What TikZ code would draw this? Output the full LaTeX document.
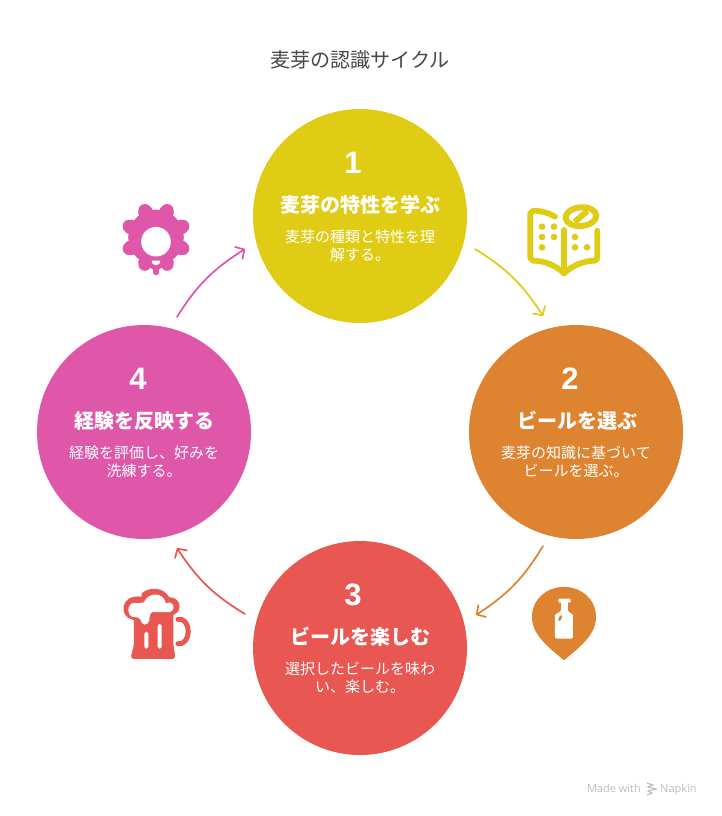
\documentclass[tikz,border=0pt]{standalone}
\usepackage{fontspec}
\setmainfont{Noto Sans CJK JP}
\newfontfamily\latinf{Open Sans}
\newfontfamily\numf{Liberation Sans}
\usetikzlibrary{arrows.meta,calc,bending}
\definecolor{cy}{HTML}{E0CC14}
\definecolor{co}{HTML}{DE8430}
\definecolor{cr}{HTML}{E85752}
\definecolor{cp}{HTML}{DE57A8}
\definecolor{ct}{HTML}{484848}
\definecolor{cg}{HTML}{BDBDBD}
\newcommand{\fs}[2]{\fontsize{#1}{#2}\selectfont}
\tikzset{
  x=1pt,y=-1pt,
  disc/.style={circle,minimum size=214pt,inner sep=0pt,fill=#1},
  numtxt/.style={text=white,font=\numf\fs{31}{31}\bfseries,inner sep=0pt},
  headtxt/.style={text=white,font=\fs{20}{20}\bfseries,inner sep=0pt},
  desctxt/.style={text=white,font=\fs{15}{18},align=center,inner sep=0pt},
  cyc/.style={draw=#1,line width=1.7pt,line cap=round,-{Straight Barb[length=6.5pt,width=14pt,line width=1.7pt,round]}}
}
\begin{document}
\begin{tikzpicture}
\useasboundingbox (0,0) rectangle (721,816);
\fill[white] (0,0) rectangle (721,816);
\node[font=\fs{20.1}{20},text=ct,inner sep=0pt] (title) at (360,60) {麦芽の認識サイクル};
% discs
\node[disc=cy] (c1) at (360,216) {};
\node[disc=co] (c2) at (576,432) {};
\node[disc=cr] (c3) at (360,648) {};
\node[disc=cp] (c4) at (144,432) {};
% texts
\node[numtxt] (n1) at (353,163) {1};
\node[headtxt] (h1) at (360,205) {麦芽の特性を学ぶ};
\node[desctxt] (d1) at (360,246) {麦芽の種類と特性を理\\解する。};
\node[numtxt] (n2) at (570,379) {2};
\node[headtxt] (h2) at (577,421) {ビールを選ぶ};
\node[desctxt] (d2) at (576,462) {麦芽の知識に基づいて\\ビールを選ぶ。};
\node[numtxt] (n3) at (353,595) {3};
\node[headtxt] (h3) at (360,637) {ビールを楽しむ};
\node[desctxt] (d3) at (360,678) {選択したビールを味わ\\い、楽しむ。};
\node[numtxt] (n4) at (138,379) {4};
\node[headtxt] (h4) at (144,421) {経験を反映する};
\node[desctxt] (d4) at (144,462) {経験を評価し、好みを\\洗練する。};
% connectors
\path (c1) ++(115,33) coordinate (a1s) (c2) ++(-33,-116) coordinate (a1e);
\path (c2) ++(-33,114) coordinate (a2s) (c3) ++(116,-33) coordinate (a2e);
\path (c3) ++(-115,-34) coordinate (a3s) (c4) ++(33,116) coordinate (a3e);
\path (c4) ++(33,-115) coordinate (a4s) (c1) ++(-115,33) coordinate (a4e);
\draw[cyc=cy] (a1s) to[bend left=13] (a1e);
\draw[cyc=co] (a2s) to[bend left=13] (a2e);
\draw[cyc=cr] (a3s) to[bend left=13] (a3e);
\draw[cyc=cp] (a4s) to[bend left=13] (a4e);
% gear icon
\begin{scope}[shift={(156,237.4)}]
  \fill[cp] (0,0) circle (27.8);
  \foreach \a in {22.5,67.5,...,360} {
    \fill[cp] (\a:29) circle (6.6);
    \fill[cp] (\a+9:28.4) circle (3);
    \fill[cp] (\a-9:28.4) circle (3);
  }
  \fill[cp] (0,26.5) circle (6.5);
  \fill[white] (0,4.3) circle (14.8);
  \draw[cp,line width=5.2pt,line cap=round] (0,27) -- (0,35.2);
  \fill[white] (-4.3,23.2) -- (4.3,23.2) .. controls (4.3,26.5) and (2,27.8) .. (0,27.8) .. controls (-2,27.8) and (-4.3,26.5) .. (-4.3,23.2) -- cycle;
\end{scope}
% book icon
\begin{scope}[shift={(470,190)},x=0.3333pt,y=-0.3333pt]
  \draw[cy,line width=5.8pt,line cap=round,line join=round]
    (255,80) .. controls (235,68) and (210,62) .. (190,62) -- (181,70) -- (181,205) -- (190,212)
    .. controls (225,212) and (260,228) .. (282,250) .. controls (305,228) and (340,212) .. (375,212) -- (382,205) -- (382,122);
  \draw[cy,line width=5.8pt,line cap=round] (282,120) -- (282,250);
  \foreach \p in {(216,110),(252,110),(216,141),(252,141),(216,172),(315,141),(315,172),(351,172)}
    \fill[cy] \p circle (10);
  \draw[cy,line width=6pt,rotate around={5:(333,80)}] (333,80) ellipse [x radius=46,y radius=28];
  \draw[cy,line width=6pt] (314,96) -- (352,63);
\end{scope}
% bottle pin icon
\begin{scope}[shift={(470,540)},x=0.3333pt,y=-0.3333pt]
  \fill[co,draw=co,line width=1.5pt,line join=round] (282,358)
    .. controls (235,318) and (190,285) .. (188,232)
    .. controls (188,180) and (230,143) .. (282,143)
    .. controls (334,143) and (376,180) .. (376,232)
    .. controls (374,285) and (329,318) .. (282,358) -- cycle;
  \fill[white,rounded corners=1.2pt] (265,176) rectangle (302,188);
  \fill[white] (272,184) rectangle (294,212);
  \fill[white,rounded corners=2pt] (255,296) -- (255,232) .. controls (255,220) and (272,218) .. (272,205)
    -- (294,205) .. controls (294,218) and (309,220) .. (309,232) -- (309,296) -- cycle;
  \draw[co,line width=2.4pt,line cap=round] (268,240) -- (273,229);
\end{scope}
% beer mug icon
\begin{scope}[shift={(110,540)},x=0.3333pt,y=-0.3333pt]
  \fill[cr,rounded corners=3.5pt] (72,235) -- (190,215) -- (190,315) -- (197,357) -- (61,357) -- (72,315) -- cycle;
  \draw[cr,line width=5pt,line cap=round] (204,238) .. controls (245,232) and (245,316) .. (204,311);
  \fill[cr] (95,160) .. controls (118,140) and (160,140) .. (178,172)
     .. controls (210,170) and (222,212) .. (190,225) -- (100,255) -- (65,238)
     .. controls (28,230) and (28,162) .. (95,170) -- cycle;
  \fill[white] (102,187) .. controls (115,155) and (160,155) .. (168,190)
     .. controls (190,180) and (202,205) .. (180,216) -- (128,216) .. controls (120,218) and (118,230) .. (118,242)
     .. controls (112,258) and (95,258) .. (92,240) .. controls (88,232) and (76,230) .. (66,230)
     .. controls (48,222) and (52,180) .. (82,190) -- cycle;
  \fill[white,rounded corners=1.8pt] (103,275) rectangle (115,326);
  \fill[white,rounded corners=1.8pt] (143,252) rectangle (155,326);
\end{scope}
% footer
\node[font=\latinf\fs{11}{11},text=cg,inner sep=0pt,anchor=base east] (made) at (641,792) {Made with};
\node[font=\latinf\fs{11}{11},text=cg,inner sep=0pt,anchor=base west] (nap) at (660,792) {Napkin};
\draw[cg,line width=1.1pt] (647,783) -- (653,785) -- (648,787) -- (656,789) -- (648,791) -- (652,793) -- (647,795);
\end{tikzpicture}
\end{document}
